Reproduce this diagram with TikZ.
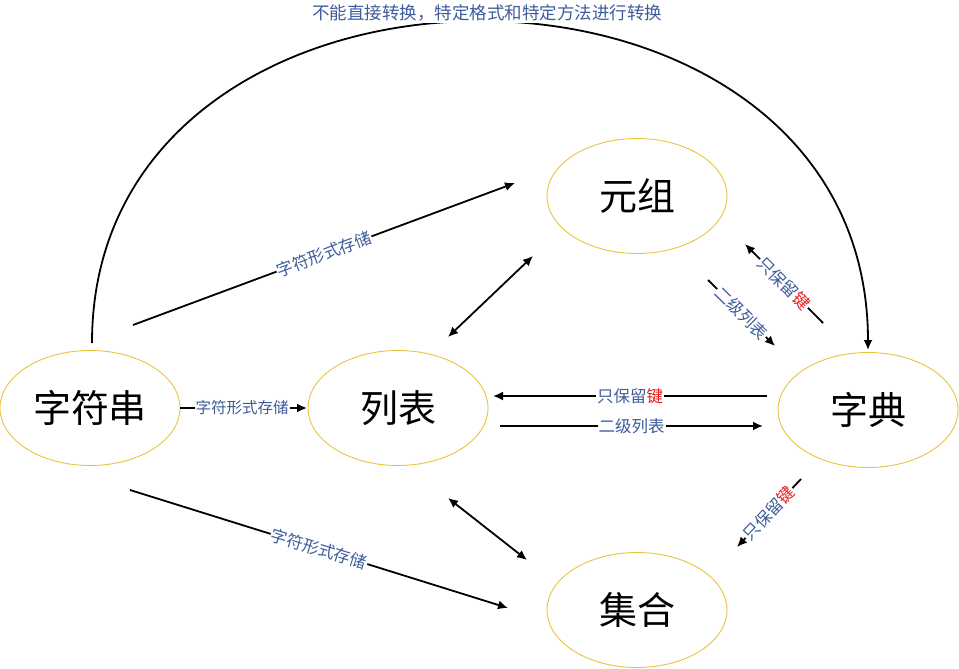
\documentclass[tikz,border=0pt]{standalone}
\usepackage{fontspec}
\setmainfont{Noto Sans CJK SC}
\usetikzlibrary{arrows.meta,shapes.geometric}
\definecolor{ring}{RGB}{232,196,60}
\definecolor{lbl}{RGB}{62,92,156}
\definecolor{keyred}{RGB}{228,30,30}
\tikzset{
  x=1pt,y=-1pt,
  setnode/.style={draw=ring,line width=0.9pt,ellipse,minimum width=180pt,minimum height=115pt,font=\fontsize{38}{40}\selectfont},
  conn/.style={line width=1.8pt,-{Latex[length=10pt,width=9pt]}},
  bconn/.style={line width=1.8pt,{Latex[length=10pt,width=9pt]}-{Latex[length=10pt,width=9pt]}},
  elbl/.style={fill=white,text=lbl,inner sep=1pt,font=\fontsize{16.5}{18}\selectfont},
}
\newcommand{\jian}{\textcolor{keyred}{键}}
\begin{document}
\begin{tikzpicture}
\useasboundingbox (0,0) rectangle (959,669);
\node[setnode] (str) at (90,408) {字符串};
\node[setnode] (lst) at (398,408) {列表};
\node[setnode] (tup) at (637,196) {元组};
\node[setnode] (dct) at (868,410) {字典};
\node[setnode] (set) at (637,610) {集合};
% endpoints
\coordinate (a1) at (133,325); \coordinate (a2) at (515,183);
\coordinate (b1) at (180,408); \coordinate (b2) at (307,408);
\coordinate (c1) at (130,490); \coordinate (c2) at (508,608);
\coordinate (d1) at (448,337); \coordinate (d2) at (533,256);
\coordinate (e1) at (448,498); \coordinate (e2) at (527,560);
\coordinate (f1) at (767,396); \coordinate (f2) at (493,396);
\coordinate (g1) at (500,426); \coordinate (g2) at (763,426);
\coordinate (h1) at (823,323); \coordinate (h2) at (745,244);
\coordinate (i1) at (708,280); \coordinate (i2) at (775,346);
\coordinate (j1) at (801,479); \coordinate (j2) at (737,547);
\coordinate (k1) at (92,343); \coordinate (k2) at (868,350);
% top arc
\draw[conn] (k1) .. controls (92,-86) and (868,-86) .. (k2);
\node[elbl,font=\fontsize{17.5}{19}\selectfont,inner sep=2pt] (top) at (487,13) {不能直接转换，特定格式和特定方法进行转换};
\draw[conn] (a1) -- node[elbl,sloped,pos=0.5] (la) {字符形式存储} (a2);
\draw[conn] (b1) -- node[elbl,pos=0.49,font=\fontsize{15.5}{17}\selectfont] (lb) {字符形式存储} (b2);
\draw[conn] (c1) -- node[elbl,sloped,pos=0.5] (lc) {字符形式存储} (c2);
\draw[bconn] (d1) -- (d2);
\draw[bconn] (e1) -- (e2);
\draw[conn] (f1) -- node[elbl,pos=0.5] (lf) {只保留\jian} (f2);
\draw[conn] (g1) -- node[elbl,pos=0.5] (lg) {二级列表} (g2);
\draw[conn] (h1) -- node[elbl,sloped,pos=0.5] (lh) {只保留\jian} (h2);
\draw[conn] (i1) -- node[elbl,sloped,pos=0.5] (li) {二级列表} (i2);
\draw[conn] (j1) -- node[elbl,sloped,pos=0.5] (lj) {只保留\jian} (j2);
\end{tikzpicture}
\end{document}
